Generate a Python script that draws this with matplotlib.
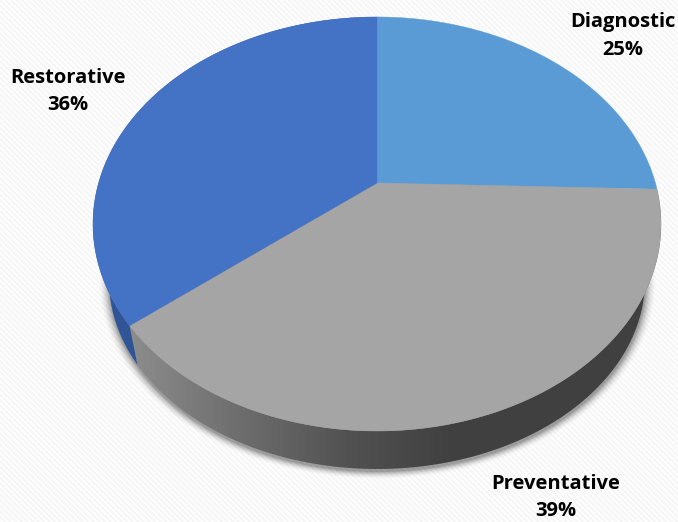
import numpy as np
import matplotlib
matplotlib.use('Agg')
import matplotlib.pyplot as plt
from matplotlib.colors import LinearSegmentedColormap
from matplotlib.patches import Rectangle, Polygon

labels = ['Diagnostic', 'Preventative', 'Restorative']
values = [25.49, 38.7, 35.81]
shown = [25, 39, 36]
top_colors = ['#5b9bd5', '#a5a5a5', '#4472c4']
label_pos = [(623, 36), (556, 497.5), (68, 91.5)]

W, H = 678, 522


# unit circle to pixels, with a bit of perspective
def project(theta, cx=377, cy=183, a=278.4, b=198.9, k=0.198):
    u, v = np.cos(theta), np.sin(theta)
    d = 1 + k * v
    return cx + a * u / d, cy - b * v / d


def project_bottom(theta):
    return project(theta, cy=233, a=259.5, b=177, k=0.25)


def arc(t1, t2, n=200):
    return np.radians(np.linspace(t1, t2, n))


fig = plt.figure(figsize=(W / 100, H / 100), dpi=100)
ax = fig.add_axes([0, 0, 1, 1])
ax.axis('off')

# striped background
plt.rcParams['hatch.linewidth'] = 1.6
ax.add_patch(Rectangle((0, 0), W, H, facecolor='white', edgecolor='#f6f6f6',
                       hatch='\\\\\\\\\\\\', linewidth=0, zorder=0))

# slice angles, clockwise from 12 o'clock
ends = np.cumsum(values) / np.sum(values) * 360
starts = np.concatenate([[0], ends[:-1]])
theta1 = 90 - starts
theta2 = 90 - ends

# soft shadow under the whole pie
yy, xx = np.mgrid[0:H, 0:W]
tx, ty = project_bottom(arc(0, 360, 720))
ex = (tx.max() + tx.min()) / 2
ey = (ty.max() + ty.min()) / 2
ea = (tx.max() - tx.min()) / 2
eb = (ty.max() - ty.min()) / 2
dist = (np.sqrt(((xx - ex) / ea) ** 2 + ((yy - ey - 2) / eb) ** 2) - 1) * (ea + eb) / 2
alpha = np.clip(1 - dist / 10, 0, 1) ** 2 * 0.38
shadow = np.zeros((H, W, 4))
shadow[..., 3] = alpha
ax.imshow(shadow, extent=(0, W, H, 0), zorder=1, aspect='auto')

# rim of the grey slice: light on the left, dark to the right
rim_cmap = LinearSegmentedColormap.from_list(
    'rim', [(0, '#8c8c8c'), (0.2, '#6e6e6e'), (0.4, '#525252'), (0.6, '#404040'), (1, '#404040')])
t = arc(theta1[1], theta2[1])
top_x, top_y = project(t)
bot_x, bot_y = project_bottom(t)
rim = Polygon(np.r_[np.c_[top_x, top_y], np.c_[bot_x, bot_y][::-1]], closed=True,
              facecolor='none', edgecolor='none', transform=ax.transData)
ax.add_patch(rim)
grad = np.linspace(0, 1, 400)[None, :]
im = ax.imshow(grad, extent=(130, 670, H, 0), cmap=rim_cmap, zorder=2, aspect='auto')
im.set_clip_path(rim)

# rim of the blue slice
t = arc(theta1[2], theta2[2])
top_x, top_y = project(t)
bot_x, bot_y = project_bottom(t)
ax.fill(np.r_[top_x, bot_x[::-1]], np.r_[top_y, bot_y[::-1]], color='#2f5597', lw=0, zorder=2)

# top faces
for i in range(len(values)):
    t = arc(theta1[i], theta2[i])
    x, y = project(t)
    ax.fill(np.r_[377, x], np.r_[183, y], color=top_colors[i], lw=0.3, ec=top_colors[i], zorder=3)

for name, pct, (x, y) in zip(labels, shown, label_pos):
    ax.text(x, y, f'{name}\n{pct}%', ha='center', va='center', fontsize=14.5,
            fontweight='bold', family='Open Sans', color='black', linespacing=1.5, zorder=4)

ax.set_xlim(0, W)
ax.set_ylim(H, 0)
fig.savefig('out.png', dpi=100)
